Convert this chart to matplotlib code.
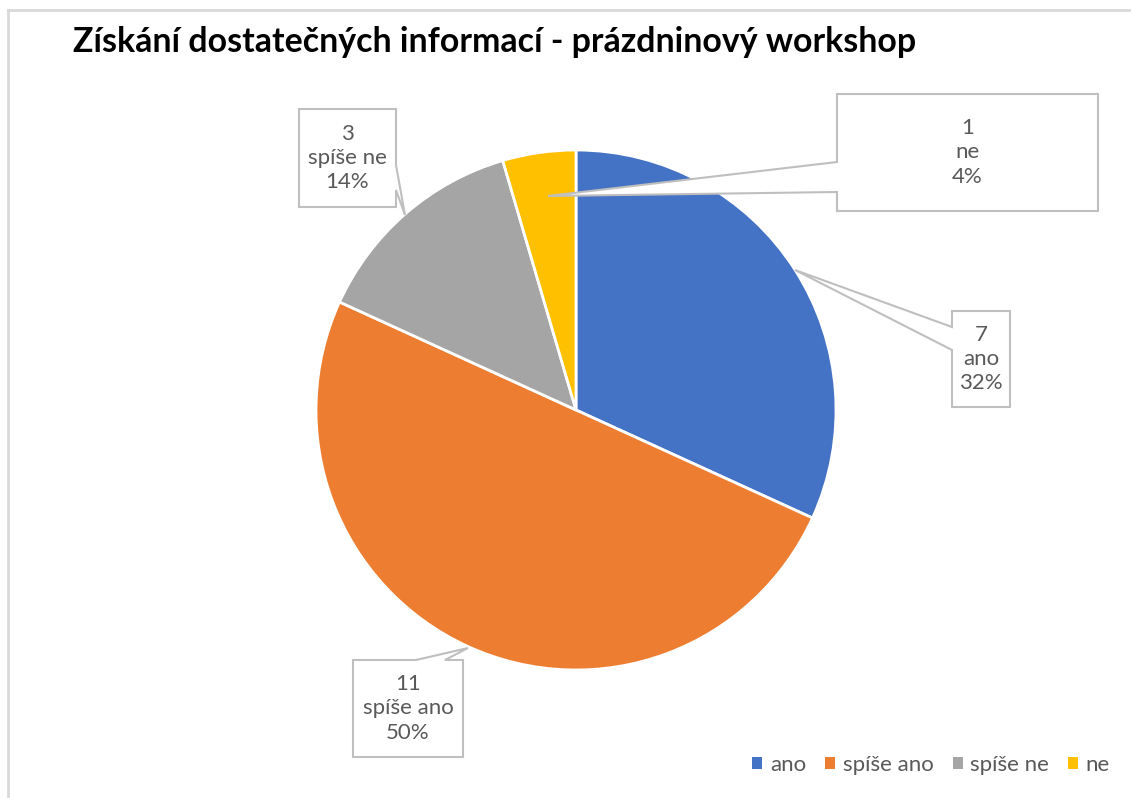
import matplotlib
matplotlib.use("Agg")
import matplotlib.pyplot as plt
from matplotlib.patches import Polygon

plt.rcParams['font.family'] = ['Lato', 'DejaVu Sans']

W, H = 1131, 798

categories = ['ano', 'spíše ano', 'spíše ne', 'ne']
values = [7, 11, 3, 1]
pct_labels = ['32%', '50%', '14%', '4%']
colors = ['#4472C4', '#ED7D31', '#A5A5A5', '#FFC000']
title = 'Získání dostatečných informací - prázdninový workshop'

text_gray = '#595959'
box_gray = '#BFBFBF'
label_size = 16


def py(y):
    # pixel row (top origin) -> axes y
    return H - y


def callout(ax, box, side, a, b, tip, text):
    x0, y0, x1, y1 = box
    if side == 'left':
        pts = [(x0, y0), (x1, y0), (x1, y1), (x0, y1), (x0, b), tip, (x0, a)]
    elif side == 'right':
        pts = [(x0, y0), (x1, y0), (x1, a), tip, (x1, b), (x1, y1), (x0, y1)]
    else:  # top
        pts = [(x0, y0), (a, y0), tip, (b, y0), (x1, y0), (x1, y1), (x0, y1)]
    pts = [(x, py(y)) for x, y in pts]
    ax.add_patch(Polygon(pts, closed=True, facecolor='white',
                         edgecolor=box_gray, linewidth=1.5, zorder=5))
    ax.text((x0 + x1) / 2, py((y0 + y1) / 2), text, ha='center', va='center',
            fontsize=label_size, color=text_gray, linespacing=1.27, zorder=6)


fig = plt.figure(figsize=(W / 100, H / 100), dpi=100)
ax = fig.add_axes([0, 0, 1, 1])

wedges, _ = ax.pie(values, colors=colors, startangle=90, counterclock=False,
                   center=(576, py(410)), radius=260,
                   wedgeprops=dict(edgecolor='white', linewidth=2))
ax.set_xlim(0, W)
ax.set_ylim(0, H)
ax.set_aspect('equal')
ax.axis('off')

# chart frame
ax.plot([8, W], [py(10), py(10)], color='#D9D9D9', lw=2, zorder=1)
ax.plot([8, 8], [py(10), 0], color='#D9D9D9', lw=2, zorder=1)

lbl = [f'{v}\n{c}\n{p}' for v, c, p in zip(values, categories, pct_labels)]
callout(ax, (952, 311, 1010, 407), 'left', 327, 350, (795, 270), lbl[0])
callout(ax, (353, 660, 463, 757), 'top', 416, 445, (468, 648), lbl[1])
callout(ax, (299, 109, 396, 207), 'right', 165, 190, (405, 215), lbl[2])
callout(ax, (837, 94, 1098, 211), 'left', 162, 192, (548, 196), lbl[3])

fig.text(73 / W, 1 - 52 / H, title, fontsize=24.4, fontweight='bold',
         color='black', va='baseline', ha='left')

leg = ax.legend(wedges, categories, ncol=4, frameon=False,
                loc='center right', bbox_to_anchor=(1119 / W, 1 - 765 / H),
                bbox_transform=fig.transFigure, fontsize=label_size,
                handlelength=0.45, handleheight=0.45, handletextpad=0.35,
                columnspacing=0.85, borderaxespad=0)
for t in leg.get_texts():
    t.set_color(text_gray)
for h in leg.legend_handles:
    h.set_edgecolor('none')

fig.savefig('out.png', dpi=100)
